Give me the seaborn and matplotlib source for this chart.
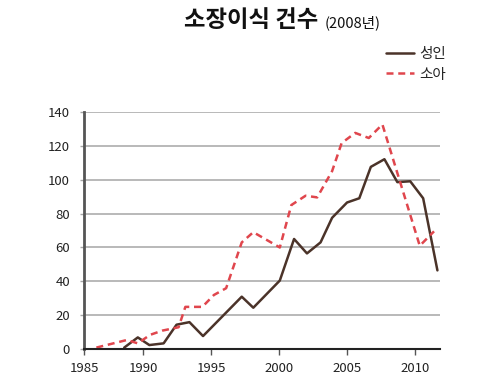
import pandas as pd
import matplotlib.pyplot as plt
import seaborn as sns

# 데이터
anos_adulto = [1988.6, 1989.6, 1990.45, 1991.5, 1992.45, 1993.4, 1994.4, 1997.25, 1998.1,
               2000.05, 2001.1, 2002.05, 2003.05, 2003.9, 2005.0, 2005.9, 2006.75, 2007.75,
               2008.7, 2009.65, 2010.6, 2011.65]
adulto = [1, 7, 2.5, 3.5, 14.5, 16, 7.8, 31, 24.5,
          40.5, 65, 56.5, 63, 77.5, 86.5, 89, 107.5, 112,
          98.5, 99, 89, 46.5]

anos_crianca = [1986.55, 1988.8, 1989.6, 1990.5, 1991.4, 1992.6, 1993.1, 1994.35, 1995.2,
                1996.1, 1997.25, 1998.1, 2000.05, 2000.9, 2001.95, 2002.8, 2003.9, 2004.6,
                2005.6, 2006.6, 2007.6, 2010.35, 2011.4]
crianca = [1, 5.5, 3.5, 8.5, 11, 13, 25, 25, 32,
           36, 63, 69, 60, 85, 90.5, 89.5, 105, 121.5,
           127.5, 124.5, 132.5, 61, 69.5]

rotulos_x = ['1985', '1990', '1995', '2000', '2005', '2010']
x_min, x_max = 1985.64, 2011.84

df_a = pd.DataFrame({'ano': anos_adulto, 'casos': adulto})
df_c = pd.DataFrame({'ano': anos_crianca, 'casos': crianca})

sns.set_style("white")
plt.rcParams['font.family'] = ['Noto Sans CJK KR', 'DejaVu Sans']

fig = plt.figure(figsize=(4.95, 3.79), dpi=100)
ax = fig.add_axes([84 / 495, 1 - 349.3 / 379, 356 / 495, 237.6 / 379])

sns.lineplot(data=df_a, x='ano', y='casos', ax=ax, color='#4b3329', linewidth=1.8,
             label='성인', sort=False)
sns.lineplot(data=df_c, x='ano', y='casos', ax=ax, color='#e0464d', linewidth=1.8,
             linestyle=(0, (2.8, 1.9)), label='소아', sort=False)

ax.set_xlim(x_min, x_max)
ax.set_ylim(0, 140)
ax.set_xticks([x_min, 1990, 1995, 2000, 2005, 2010])
ax.set_xticklabels(rotulos_x)
ax.set_yticks(range(0, 141, 20))
ax.set_xlabel('')
ax.set_ylabel('')

ax.grid(axis='y', color='#a6a6a6', linewidth=1.1)
ax.set_axisbelow(True)
for lado in ['top', 'right']:
    ax.spines[lado].set_visible(False)
ax.spines['left'].set_color('#555555')
ax.spines['left'].set_linewidth(2)
ax.spines['bottom'].set_color('#222222')
ax.spines['bottom'].set_linewidth(1.5)

ax.tick_params(axis='x', bottom=True, length=4.5, width=1, color='#555555',
               labelsize=9.5, pad=5, labelcolor='#222222')
ax.tick_params(axis='y', left=True, length=3, width=1, color='#a6a6a6',
               labelsize=9.5, pad=7, labelcolor='#222222')

ax.legend(loc='upper left', bbox_to_anchor=(386 / 495, 1 - 47 / 379),
          bbox_transform=fig.transFigure, frameon=False, fontsize=10.5,
          handlelength=1.9, handletextpad=0.4, labelspacing=0.45,
          borderpad=0, borderaxespad=0)

fig.text(184 / 495, 1 - 27 / 379, '소장이식 건수', fontsize=16.8, fontweight='bold',
         ha='left', va='baseline', color='#111111')
fig.text(325 / 495, 1 - 27 / 379, '(2008년)', fontsize=10.5,
         ha='left', va='baseline', color='#111111')

fig.savefig('out.png', dpi=100)
